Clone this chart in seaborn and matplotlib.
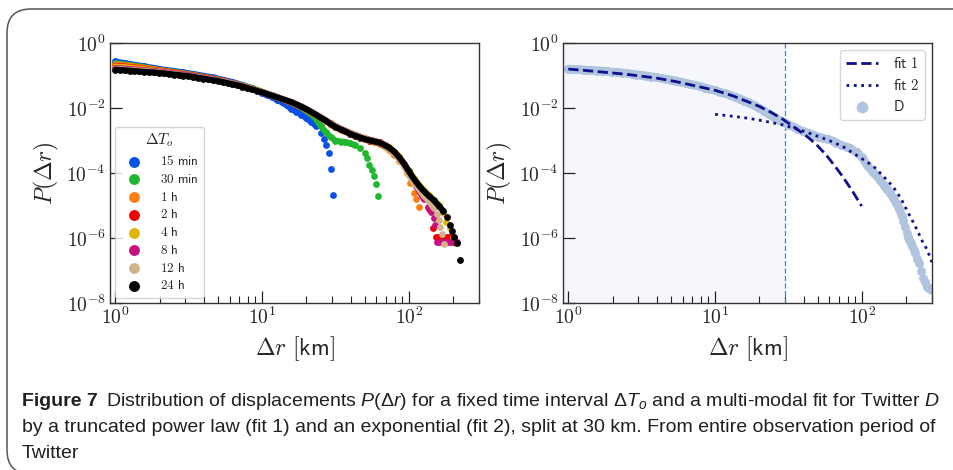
import math
import matplotlib
matplotlib.use('Agg')
import matplotlib.pyplot as plt
from matplotlib import font_manager
from matplotlib.ticker import FuncFormatter, FixedLocator, LogLocator, NullLocator
from matplotlib.patches import FancyBboxPatch
import seaborn as sns

# ---------------- data ----------------
# each series: dense band ("body") and the scattered points of its tail
intervals = ['15 min', '30 min', '1 h', '2 h', '4 h', '8 h', '12 h', '24 h']
colors = ['#0a50e6', '#20b830', '#ff7f10', '#f00000', '#e0b800', '#c8107e', '#d2b48c', '#000000']

r_15min = [1.0, 1.16, 1.35, 1.58, 1.84, 2.14, 2.5, 2.91, 3.4, 3.96, 4.62, 5.39, 6.28, 7.33, 8.55, 9.23, 9.97,
           10.8, 11.6, 12.6, 13.6, 14.7, 15.8, 17.1, 18.5, 19.9, 21.5, 23.3]
p_15min = [0.27, 0.24, 0.214, 0.19, 0.17, 0.151, 0.138, 0.124, 0.111, 0.098, 0.087, 0.074, 0.063, 0.051, 0.04, 0.034,
           0.028, 0.025, 0.022, 0.018, 0.0151, 0.012, 0.0095, 0.0078, 0.0063, 0.005, 0.0038, 0.0028]
r_15min_tail = [25.0, 26.2, 27.4, 28.5, 29.6, 30.6]
p_15min_tail = [0.0017, 0.0011, 0.00073, 0.00042, 0.00013, 0.000021]

r_30min = [1.0, 1.16, 1.35, 1.58, 1.84, 2.14, 2.5, 2.91, 3.4, 3.96, 4.62, 5.39, 6.28, 7.33, 8.55, 9.97, 11.6,
           13.6, 15.8, 18.5, 21.5, 23.3, 25.1, 27.1, 29.3, 31.6, 34.2, 36.9, 39.8, 43.0]
p_30min = [0.24, 0.219, 0.2, 0.178, 0.158, 0.14, 0.129, 0.116, 0.104, 0.091, 0.081, 0.069, 0.059, 0.049, 0.041,
           0.032, 0.025, 0.019, 0.0148, 0.0105, 0.0066, 0.0045, 0.0028, 0.0018, 0.00126, 0.001, 0.00093, 0.00089,
           0.00081, 0.00071]
r_30min_tail = [46.7, 50.5, 52.0, 53.8, 55.6, 58.0, 60.0, 61.8]
p_30min_tail = [0.0006, 0.00042, 0.00028, 0.00018, 0.00012, 0.00008, 0.000045, 0.000019]

r_1h = [1.0, 1.16, 1.35, 1.58, 1.84, 2.14, 2.5, 2.91, 3.4, 3.96, 4.62, 5.39, 6.28, 7.33, 8.55, 9.97, 11.6, 13.6,
        15.8, 18.5, 21.5, 25.1, 29.3, 34.2, 39.8, 46.5, 54.2, 63.2, 73.7, 79.6]
p_1h = [0.22, 0.205, 0.19, 0.172, 0.155, 0.14, 0.126, 0.114, 0.102, 0.09, 0.08, 0.068, 0.058, 0.048, 0.039, 0.031,
        0.0245, 0.019, 0.0148, 0.0108, 0.0074, 0.0049, 0.0031, 0.0021, 0.0016, 0.0012, 0.00095, 0.00078, 0.00052,
        0.00036]
r_1h_tail = [86.0, 92.0, 97.0, 102, 108, 112, 117]
p_1h_tail = [0.00024, 0.00016, 0.0001, 0.00005, 0.000025, 0.000016, 0.000009]

r_2h = [1.0, 1.16, 1.35, 1.58, 1.84, 2.14, 2.5, 2.91, 3.4, 3.96, 4.62, 5.39, 6.28, 7.33, 8.55, 9.97, 11.6, 13.6,
        15.8, 18.5, 21.5, 25.1, 29.3, 34.2, 39.8, 46.5, 54.2, 63.2, 73.7, 86.0, 100, 108, 117, 126]
p_2h = [0.2, 0.188, 0.176, 0.162, 0.148, 0.135, 0.122, 0.111, 0.1, 0.089, 0.079, 0.068, 0.058, 0.048, 0.039, 0.031,
        0.0245, 0.019, 0.0148, 0.0108, 0.0075, 0.005, 0.0033, 0.0023, 0.0017, 0.0013, 0.001, 0.00085, 0.00058,
        0.0003, 0.000105, 0.00006, 0.000035, 0.00002]
r_2h_tail = [136, 146, 152, 156, 160, 164, 168, 172, 176, 180, 185, 190, 195, 199, 203]
p_2h_tail = [0.000008, 0.0000021, 1.1e-6, 1.1e-6, 1.1e-6, 1.1e-6, 1.1e-6, 1.1e-6, 1.1e-6, 1.1e-6, 1.1e-6,
             1.1e-6, 1.1e-6, 1.1e-6, 1.1e-6]

r_4h = [1.0, 1.16, 1.35, 1.58, 1.84, 2.14, 2.5, 2.91, 3.4, 3.96, 4.62, 5.39, 6.28, 7.33, 8.55, 9.97, 11.6, 13.6,
        15.8, 18.5, 21.5, 25.1, 29.3, 34.2, 39.8, 46.5, 54.2, 63.2, 73.7, 86.0, 100, 117, 136, 159]
p_4h = [0.19, 0.18, 0.169, 0.156, 0.143, 0.131, 0.119, 0.108, 0.098, 0.087, 0.077, 0.067, 0.057, 0.047, 0.038,
        0.0305, 0.024, 0.0188, 0.0146, 0.0107, 0.0074, 0.005, 0.0033, 0.0023, 0.0017, 0.0013, 0.00105, 0.00088,
        0.00061, 0.00032, 0.000115, 0.000043, 0.000021, 0.0000105]
r_4h_tail = [171, 180, 190, 200, 207]
p_4h_tail = [0.000006, 0.0000032, 0.000002, 0.000001, 0.0000007]

r_8h = [1.0, 1.16, 1.35, 1.58, 1.84, 2.14, 2.5, 2.91, 3.4, 3.96, 4.62, 5.39, 6.28, 7.33, 8.55, 9.97, 11.6, 13.6,
        15.8, 18.5, 21.5, 25.1, 29.3, 34.2, 39.8, 46.5, 54.2, 63.2, 73.7, 86.0, 100, 112, 126]
p_8h = [0.17, 0.162, 0.154, 0.145, 0.136, 0.126, 0.116, 0.107, 0.097, 0.087, 0.077, 0.067, 0.057, 0.047, 0.038,
        0.0305, 0.0243, 0.0192, 0.015, 0.011, 0.0077, 0.0051, 0.0034, 0.0023, 0.0017, 0.0013, 0.00105, 0.00087,
        0.0006, 0.00029, 0.0001, 0.00004, 0.000016]
r_8h_tail = [134, 141, 147, 151, 156, 161, 166, 171, 176, 182, 188, 194, 200, 206, 213]
p_8h_tail = [0.000009, 0.0000065, 0.0000042, 0.0000025, 7.5e-7, 7.5e-7, 7.5e-7, 7.5e-7, 7.5e-7, 7.5e-7, 7.5e-7,
             7.5e-7, 7.5e-7, 7.5e-7, 7.5e-7]

r_12h = [1.0, 1.16, 1.35, 1.58, 1.84, 2.14, 2.5, 2.91, 3.4, 3.96, 4.62, 5.39, 6.28, 7.33, 8.55, 9.97, 11.6, 13.6,
         15.8, 18.5, 21.5, 25.1, 29.3, 34.2, 39.8, 46.5, 54.2, 63.2, 68.3, 73.7, 79.6, 86.0, 92.9, 100, 108, 117,
         126, 136, 147]
p_12h = [0.16, 0.152, 0.145, 0.137, 0.129, 0.12, 0.111, 0.102, 0.093, 0.084, 0.074, 0.065, 0.056, 0.047, 0.038,
         0.031, 0.0247, 0.0195, 0.0153, 0.0113, 0.0078, 0.0052, 0.0034, 0.0023, 0.0017, 0.0013, 0.00102, 0.00083,
         0.00068, 0.00054, 0.0004, 0.00026, 0.00016, 0.000085, 0.00005, 0.000032, 0.00002, 0.000014, 0.0000085]
r_12h_tail = [155, 160, 164, 168, 172]
p_12h_tail = [0.0000055, 0.0000035, 0.0000022, 0.0000013, 0.00000065]

r_24h = [1.0, 1.08, 1.16, 1.25, 1.35, 1.46, 1.58, 1.7, 1.84, 1.98, 2.14, 2.31, 2.5, 2.7, 2.91, 3.14, 3.4, 3.67,
         3.96, 4.28, 4.62, 4.99, 5.39, 5.82, 6.28, 6.79, 7.33, 7.91, 8.55, 9.23, 9.97, 10.8, 11.6, 12.6, 13.6, 14.7,
         15.8, 17.1, 18.5, 19.9, 21.5, 23.3, 25.1, 27.1, 29.3, 31.6, 34.2, 36.9, 39.8, 43.0, 46.5, 50.2, 54.2, 58.5,
         63.2, 68.3, 73.7, 79.6, 86.0, 92.9, 100, 108, 117, 126, 136, 147, 159, 171]
p_24h = [0.151, 0.148, 0.144, 0.141, 0.137, 0.133, 0.13, 0.127, 0.124, 0.12, 0.116, 0.112, 0.107, 0.103, 0.0995,
         0.096, 0.0906, 0.0853, 0.0807, 0.0762, 0.0718, 0.0678, 0.0628, 0.0582, 0.054, 0.0499, 0.0457, 0.0413,
         0.0372, 0.0336, 0.0303, 0.0269, 0.0242, 0.0214, 0.019, 0.017, 0.0151, 0.0129, 0.011, 0.0093, 0.0076,
         0.0062, 0.005, 0.0041, 0.0032, 0.0026, 0.0022, 0.0019, 0.0016, 0.0014, 0.00123, 0.0011, 0.001, 0.00093,
         0.00085, 0.00072, 0.00059, 0.00045, 0.0003, 0.00019, 0.000112, 0.000066, 0.000041, 0.000028, 0.00002,
         0.0000148, 0.00001, 0.0000068]
r_24h_tail = [181, 190, 197, 204, 211, 221]
p_24h_tail = [0.0000045, 0.0000025, 0.0000017, 0.0000011, 0.00000069, 0.00000021]

bodies_r = [r_15min, r_30min, r_1h, r_2h, r_4h, r_8h, r_12h, r_24h]
bodies_p = [p_15min, p_30min, p_1h, p_2h, p_4h, p_8h, p_12h, p_24h]
tails_r = [r_15min_tail, r_30min_tail, r_1h_tail, r_2h_tail, r_4h_tail, r_8h_tail, r_12h_tail, r_24h_tail]
tails_p = [p_15min_tail, p_30min_tail, p_1h_tail, p_2h_tail, p_4h_tail, p_8h_tail, p_12h_tail, p_24h_tail]

# right panel: Twitter data D and the two fits
d_r = [1.0, 1.08, 1.16, 1.25, 1.35, 1.46, 1.58, 1.7, 1.84, 1.98, 2.14, 2.31, 2.5, 2.7, 2.91, 3.14, 3.4, 3.67,
       3.96, 4.28, 4.62, 4.99, 5.39, 5.82, 6.28, 6.79, 7.33, 7.91, 8.55, 9.23, 9.97, 10.8, 11.6, 12.6, 13.6, 14.7,
       15.8, 17.1, 18.5, 19.9, 21.5, 23.3, 25.1, 27.1, 29.3, 31.6, 34.2, 36.9, 39.8, 43.0, 46.5, 50.2, 54.2, 58.5,
       63.2, 67.0, 72.0, 78.5, 83.0, 92.0, 100, 108, 118, 126, 133, 141, 147, 156, 164, 172, 180, 187]
d_p = [0.16, 0.157, 0.154, 0.151, 0.148, 0.145, 0.142, 0.138, 0.134, 0.13, 0.126, 0.122, 0.117, 0.112, 0.107,
       0.103, 0.098, 0.093, 0.088, 0.083, 0.078, 0.074, 0.069, 0.064, 0.059, 0.054, 0.05, 0.046, 0.042, 0.038,
       0.035, 0.031, 0.028, 0.025, 0.022, 0.0195, 0.017, 0.0145, 0.012, 0.0098, 0.008, 0.0065, 0.0053, 0.0044,
       0.0037, 0.0031, 0.0026, 0.0022, 0.0019, 0.0017, 0.0015, 0.0013, 0.0012, 0.00108, 0.00098, 0.00085, 0.00072,
       0.00064, 0.00057, 0.00043, 0.0003, 0.00018, 0.00011, 0.00008, 0.00006, 0.000042, 0.000032, 0.000024,
       0.000017, 0.000011, 0.0000078, 0.0000048]
d_r_tail = [191, 196, 202, 206, 210, 215, 219, 225, 230, 238, 245, 254, 262, 270, 277, 284, 292, 300]
d_p_tail = [0.0000034, 0.0000022, 0.0000014, 0.0000011, 0.00000085, 0.0000007, 0.00000055, 0.00000042,
            0.00000034, 0.00000022, 0.00000017, 0.0000001, 0.00000006, 0.000000045, 0.00000003, 0.000000028,
            0.000000027, 0.000000026]

fit1_r = [1.0, 1.5, 2.44, 4.0, 5.4, 7.8, 10.0, 13.1, 16.0, 20.0, 24.0, 28.9, 34.0, 41.7, 49.0, 57.0, 65.0, 74.0,
          86.0, 99.5]
fit1_p = [0.158, 0.135, 0.11, 0.083, 0.065, 0.045, 0.035, 0.024, 0.0168, 0.0112, 0.0074, 0.0045, 0.0027, 0.0014,
          0.00075, 0.00036, 0.00017, 0.000077, 0.000028, 0.0000096]

fit2_r = [10.0, 13.0, 17.0, 22.0, 29.0, 36.0, 44.0, 53.0, 63.0, 75.0, 92.0, 105, 120, 140, 163, 185, 202, 220, 237,
          258, 277, 300]
fit2_p = [0.0064, 0.0056, 0.0048, 0.0039, 0.003, 0.0023, 0.00166, 0.00123, 0.00091, 0.00063, 0.00035, 0.00024,
          0.00016, 0.000079, 0.000038, 0.000016, 0.0000072, 0.0000035, 0.0000018, 0.00000079, 0.00000045,
          0.00000018]

split_km = 30

# ---------------- style ----------------
sns.set_style('ticks')
plt.rcParams['font.family'] = ['DejaVu Sans']
plt.rcParams['mathtext.fontset'] = 'cm'
plt.rcParams['axes.edgecolor'] = '#333333'
plt.rcParams['axes.linewidth'] = 1.0

cap_font = 'Liberation Sans'
try:
    font_manager.findfont('Liberation Sans Narrow', fallback_to_default=False)
    cap_font = 'Liberation Sans Narrow'
except Exception:
    pass
plt.rcParams['mathtext.rm'] = cap_font
plt.rcParams['mathtext.it'] = cap_font + ':italic'
plt.rcParams['mathtext.bf'] = cap_font + ':bold'


def sf(text):
    # LaTeX-like sans serif (cmss) through mathtext
    return r'$\mathsf{' + text.replace(' ', r'\ ') + '}$'


fig = plt.figure(figsize=(9.54, 4.70), dpi=100)
W, H = 954, 470
ax1 = fig.add_axes([110 / W, 1 - 303 / H, 369 / W, 260 / H])
ax2 = fig.add_axes([563 / W, 1 - 303 / H, 369 / W, 260 / H])

decade_fmt = FuncFormatter(lambda v, pos: r'$10^{%d}$' % round(math.log10(v)))


def style_axis(ax):
    ax.set_xlim(0.92, 300)
    ax.set_ylim(1e-8, 1)
    ax.yaxis.set_major_locator(FixedLocator([1e-8, 1e-6, 1e-4, 1e-2, 1]))
    ax.yaxis.set_minor_locator(NullLocator())
    ax.xaxis.set_major_locator(FixedLocator([1, 10, 100]))
    ax.xaxis.set_minor_locator(LogLocator(base=10, subs=range(2, 10)))
    ax.xaxis.set_major_formatter(decade_fmt)
    ax.yaxis.set_major_formatter(decade_fmt)
    ax.tick_params(which='major', direction='in', length=8.5, width=0.9, labelsize=14, pad=3, color='#222222')
    ax.tick_params(which='minor', direction='in', length=5, width=0.8, color='#222222')
    ax.set_ylabel(r'$P(\Delta r)$', fontsize=17, labelpad=4)
    ax.set_xlabel(r'$\Delta r\ \mathsf{[km]}$', fontsize=17, labelpad=4)


line_kw = dict(sort=False, estimator=None, solid_capstyle='round', solid_joinstyle='round')

# ---------------- left panel ----------------
ax1.set_xscale('log')
ax1.set_yscale('log')
for name, col, br, bp, tr, tp in zip(intervals, colors, bodies_r, bodies_p, tails_r, tails_p):
    sns.lineplot(x=br, y=bp, color=col, lw=4.4, ax=ax1, **line_kw)
    sns.scatterplot(x=br + tr, y=bp + tp, color=col, s=24, linewidth=0, label=name, ax=ax1)
style_axis(ax1)
h, l = ax1.get_legend_handles_labels()
keep = [l.index(n) for n in intervals]
ax1.legend([h[i] for i in keep], [sf(n) for n in intervals], title=r'$\Delta T_o$', loc='lower left',
           fontsize=9.5, title_fontsize=11, markerscale=1.6, labelspacing=0.36,
           handletextpad=1.0, borderaxespad=0.4, framealpha=0.8, edgecolor='#cccccc')

# ---------------- right panel ----------------
ax2.set_xscale('log')
ax2.set_yscale('log')
ax2.axvspan(0.5, split_km, color='#f5f7fd', zorder=0, lw=0)
ax2.axvline(split_km, color='#2b8cd6', lw=0.9, ls=(0, (4, 2)), zorder=1)
sns.lineplot(x=d_r, y=d_p, color='#b0c4de', lw=6.0, ax=ax2, zorder=2, **line_kw)
sns.scatterplot(x=d_r + d_r_tail, y=d_p + d_p_tail, color='#b0c4de', s=42, linewidth=0, label='D',
                ax=ax2, zorder=2)
sns.lineplot(x=fit1_r, y=fit1_p, color='#10108c', linestyle='--', lw=2.0, label='fit 1',
             sort=False, estimator=None, ax=ax2, zorder=3)
sns.lineplot(x=fit2_r, y=fit2_p, color='#10108c', linestyle=':', lw=2.0, label='fit 2',
             sort=False, estimator=None, ax=ax2, zorder=3)
style_axis(ax2)
h, l = ax2.get_legend_handles_labels()
order = [l.index('fit 1'), l.index('fit 2'), l.index('D')]
ax2.legend([h[i] for i in order], [sf(l[i]) for i in order], loc='upper right', fontsize=10.5,
           markerscale=1.3, handlelength=2.2, handletextpad=1.0, labelspacing=0.45,
           framealpha=0.8, edgecolor='#cccccc')

# ---------------- frame and caption ----------------
box = FancyBboxPatch((7 / W, 1 - 474 / H), 980 / W, 465 / H,
                     boxstyle='round,pad=0,rounding_size=0.025', transform=fig.transFigure,
                     fill=False, edgecolor='#555555', lw=1.1, clip_on=False, mutation_aspect=W / H)
fig.patches.append(box)

cap_color = '#231f20'
cap_size = 14
t0 = fig.text(22 / W, 1 - 402 / H, 'Figure 7', fontsize=cap_size, fontweight='bold', family=cap_font,
              color=cap_color, va='center', ha='left')
fig.canvas.draw()
bb = t0.get_window_extent()
x_after = (bb.x1 + 8) / W
fig.text(x_after, 1 - 402 / H,
         r'Distribution of displacements $P$($\Delta r$) for a fixed time interval $\Delta T_o$ and a multi-modal fit for Twitter $D$',
         fontsize=cap_size, family=cap_font, color=cap_color, va='center', ha='left', math_fontfamily='custom')
fig.text(22 / W, 1 - 428 / H,
         'by a truncated power law (fit 1) and an exponential (fit 2), split at 30 km. From entire observation period of',
         fontsize=cap_size, family=cap_font, color=cap_color, va='center', ha='left')
fig.text(22 / W, 1 - 453 / H, 'Twitter', fontsize=cap_size, family=cap_font, color=cap_color,
         va='center', ha='left')

fig.savefig('out.png', dpi=100)
